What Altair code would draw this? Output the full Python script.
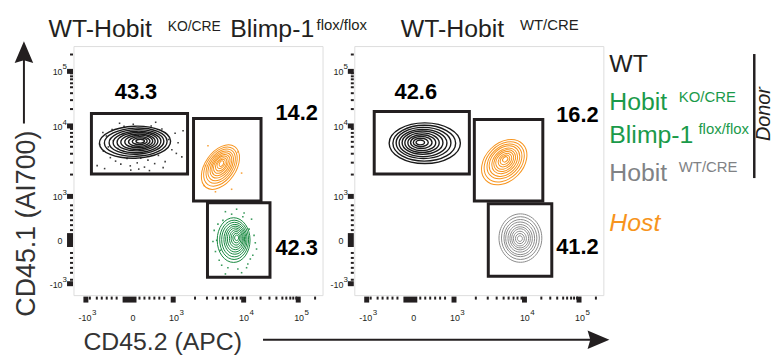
import altair as alt
import pandas as pd

FONT = "Liberation Sans, Arial, Helvetica, sans-serif"
INK = "#231f20"
AX_INK = "#333333"
GREEN = "#1a9a4a"
GREEN_C = "#17883f"
ORANGE = "#f7941d"
GRAY = "#8a8a8a"
GRAY_T = "#808285"

# ---------------- axis ticks (display units = % of logicle-scaled axis) -------------
MAJOR = [4.8, 22.5, 40.0, 68.1, 90.2]
TICK_BASE = ["-10", "0", "10", "10", "10"]
TICK_SUP = ["3", "", "3", "4", "5"]
MINOR = [6.4, 9.2, 11.2, 13.1, 15.1, 17.1, 26.3, 28.3, 30.3, 32.3, 34.3, 36.3,
         48.5, 53.4, 56.9, 59.6, 61.9, 63.7, 65.4, 66.8,
         74.8, 78.6, 81.4, 83.5, 85.3, 86.8, 88.1, 89.2, 96.8]
ZERO = 22.5

# ---------------- panel 1 : WT-Hobit KO/CRE Blimp-1 flox/flox ----------------------
P1_GATE_X1 = [7.2, 48.2, 53.8]
P1_GATE_X2 = [45.8, 75.3, 78.9]
P1_GATE_Y1 = [48.6, 37.8, 7.2]
P1_GATE_Y2 = [72.9, 70.9, 37.1]
P1_PCT = ["43.3", "14.2", "42.3"]
P1_PCT_X = [25.1, 89.6, 89.6]
P1_PCT_Y = [81.7, 73.3, 18.7]

# contour levels (centre x, centre y, half-width) per population
P1_WT_CX = [24.7, 25.0, 25.3, 25.5, 25.7, 25.9, 26.2, 26.4, 26.6, 26.8]
P1_WT_CY = [61.4, 61.4, 61.5, 61.5, 61.6, 61.6, 61.7, 61.7, 61.8, 61.8]
P1_WT_RX = [14.3, 12.6, 11.0, 9.6, 8.2, 6.9, 5.6, 4.3, 3.0, 1.7]

P1_HOST_CX = [59.0, 59.0, 59.1, 59.1, 59.2, 59.2, 59.2, 59.3, 59.3, 59.4]
P1_HOST_CY = [51.4, 51.6, 51.8, 51.9, 52.1, 52.2, 52.4, 52.5, 52.7, 52.8]
P1_HOST_RX = [10.0, 8.8, 7.7, 6.7, 5.7, 4.8, 3.9, 3.0, 2.1, 1.2]

P1_KO_CX = [64.3, 64.5, 64.6, 64.8, 64.9, 65.0, 65.2, 65.3, 65.4, 65.5]
P1_KO_CY = [22.1, 22.2, 22.3, 22.4, 22.5, 22.6, 22.7, 22.8, 22.9, 23.0]
P1_KO_RX = [6.6, 5.8, 5.1, 4.4, 3.8, 3.2, 2.6, 2.0, 1.4, 0.8]

# sparse events outside the outer contours
P1_WT_DOT_X = [10.5, 12.0, 13.2, 14.8, 15.5, 16.9, 17.8, 19.0, 20.3, 21.5, 22.8, 24.0,
               25.6, 27.0, 28.5, 29.9, 31.2, 32.6, 34.1, 35.5, 36.8, 38.2, 39.5, 40.8,
               42.0, 11.8, 18.5, 26.2, 33.0, 41.3,
               9.5, 12.5, 14.0, 16.0, 20.0, 23.0, 30.5, 36.0, 43.5, 44.0]
P1_WT_DOT_Y = [60.5, 57.8, 63.9, 55.2, 66.5, 53.8, 58.9, 52.6, 67.8, 54.9, 51.9, 68.6,
               53.1, 55.0, 51.4, 54.2, 67.9, 52.8, 56.1, 66.7, 53.6, 62.5, 58.4, 65.0,
               61.2, 65.3, 69.0, 50.6, 69.4, 56.9,
               52.0, 50.8, 59.5, 62.0, 64.8, 50.2, 50.0, 51.2, 55.5, 66.0]
P1_HOST_DOT_X = [52.5, 66.0, 54.0, 63.5, 57.0, 67.5, 53.0]
P1_HOST_DOT_Y = [44.0, 57.5, 60.0, 42.5, 41.5, 49.0, 52.0]
P1_KO_DOT_X = [58.5, 71.5, 60.0, 70.0, 57.5, 73.0, 62.0, 68.5, 59.0, 72.0, 66.0, 61.0,
               56.5, 57.0, 58.0, 59.5, 61.0, 63.5, 65.5, 67.5, 69.5, 70.5, 71.0, 72.5,
               56.0, 73.5, 68.0]
P1_KO_DOT_Y = [14.0, 30.5, 30.0, 12.5, 22.0, 21.0, 11.0, 33.0, 18.0, 16.0, 10.5, 33.5,
               26.0, 17.5, 28.5, 12.0, 8.5, 32.5, 34.5, 9.0, 11.0, 26.5, 14.5, 24.0,
               21.5, 18.5, 31.5]

# ---------------- panel 2 : WT-Hobit WT/CRE ---------------------------------------
P2_GATE_X1 = [8.0, 48.2, 53.8]
P2_GATE_X2 = [46.2, 75.7, 79.3]
P2_GATE_Y1 = [48.6, 37.8, 7.6]
P2_GATE_Y2 = [73.7, 70.5, 36.7]
P2_PCT = ["42.6", "16.2", "41.2"]
P2_PCT_X = [24.7, 89.6, 89.6]
P2_PCT_Y = [81.7, 72.5, 19.1]

P2_WT_CX = [28.3, 28.1, 27.8, 27.6, 27.4, 27.2, 27.1, 26.9, 26.7, 26.5]
P2_WT_CY = [61.0, 61.0, 61.1, 61.1, 61.2, 61.2, 61.2, 61.3, 61.3, 61.3]
P2_WT_RX = [14.3, 12.6, 11.0, 9.6, 8.2, 6.9, 5.6, 4.3, 3.0, 1.7]

P2_HOST_CX = [60.2, 60.2, 60.3, 60.3, 60.4, 60.4, 60.4, 60.5, 60.5, 60.6]
P2_HOST_CY = [53.4, 53.5, 53.7, 53.8, 53.9, 54.0, 54.1, 54.2, 54.3, 54.5]
P2_HOST_RX = [10.4, 9.2, 8.0, 7.0, 5.9, 5.0, 4.1, 3.1, 2.2, 1.2]

P2_CTRL_CX = [66.7, 66.7, 66.7, 66.6, 66.6, 66.6, 66.6, 66.5, 66.5, 66.5]
P2_CTRL_CY = [22.9, 22.9, 22.9, 22.8, 22.8, 22.8, 22.8, 22.7, 22.7, 22.7]
P2_CTRL_RX = [8.6, 7.6, 6.6, 5.8, 4.9, 4.1, 3.4, 2.6, 1.8, 1.0]

# ---------------- scales / axes ---------------------------------------------------
W = H = 251
PXU = W / 100.0
XS = alt.Scale(domain=[0, 100], nice=False, zero=False)
YS = alt.Scale(domain=[0, 100], nice=False, zero=False)
SS = alt.Scale(type="linear", domain=[0, 100], range=[0, 4 * PXU * PXU * 100], zero=True)

ALL_TICKS = sorted(MAJOR + MINOR)
IS_MAJOR = " || ".join(f"datum.value == {v}" for v in MAJOR)
TICK_SIZE = {"condition": {"test": IS_MAJOR, "value": 6}, "value": 3}
TICK_WIDTH = {"condition": [{"test": f"datum.value == {ZERO}", "value": 14},
                            {"test": IS_MAJOR, "value": 5}], "value": 2}


def make_axis(orient):
    return alt.Axis(values=ALL_TICKS, labels=False, domain=False, grid=False, title=None,
                    orient=orient, tickColor=INK, tickSize=TICK_SIZE, tickWidth=TICK_WIDTH,
                    offset=1)


XAX = make_axis("bottom")
YAX = make_axis("left")


def X(f):
    return alt.X(f, type="quantitative", scale=XS, axis=XAX)


def Y(f):
    return alt.Y(f, type="quantitative", scale=YS, axis=YAX)


def ellipse_path(k):
    return f"M -1 0 A 1 {k} 0 1 1 1 0 A 1 {k} 0 1 1 -1 0 Z"


def contour(cx, cy, rx, k, angle, color, sw):
    df = pd.DataFrame({"cx": cx, "cy": cy, "rx": rx})
    return alt.Chart(df).transform_calculate(s="datum.rx * datum.rx").mark_point(
        shape=ellipse_path(k), filled=False, color=color, strokeWidth=sw, opacity=1,
        angle=angle, clip=False
    ).encode(x=X("cx"), y=Y("cy"), size=alt.Size("s:Q", scale=SS, legend=None))


def dots(xv, yv, color):
    df = pd.DataFrame({"x": xv, "y": yv})
    return alt.Chart(df).mark_square(size=2.5, color=color, opacity=0.85).encode(
        x=X("x"), y=Y("y"))


def txt(t, x, y, size, color=INK, **kw):
    df = pd.DataFrame({"x": [x], "y": [y], "t": [t]})
    props = dict(align="left", baseline="alphabetic", font=FONT, fontSize=size,
                 color=color, clip=False)
    props.update(kw)
    return alt.Chart(df).mark_text(**props).encode(x=X("x"), y=Y("y"), text="t:N")


def rule(x1, x2, y1, y2, color=INK, sw=2):
    df = pd.DataFrame({"x": [x1], "x2": [x2], "y": [y1], "y2": [y2]})
    return alt.Chart(df).mark_rule(color=color, strokeWidth=sw, clip=False).encode(
        x=X("x"), x2="x2", y=Y("y"), y2="y2")


ARROW = "M -1 -0.85 L 1 0 L -1 0.85 L -0.75 0 Z"


def head(x, y, angle):
    df = pd.DataFrame({"x": [x], "y": [y]})
    return alt.Chart(df).mark_point(shape=ARROW, filled=True, color=INK, opacity=1,
                                    size=484, angle=angle, strokeWidth=0, clip=False).encode(
        x=X("x"), y=Y("y"))


def tick_labels():
    df = pd.DataFrame({"v": MAJOR, "base": TICK_BASE, "sup": TICK_SUP})
    common = dict(font=FONT, color=INK, baseline="alphabetic", clip=False)
    xb = alt.Chart(df).mark_text(align="right", dx=6, fontSize=9, **common).encode(
        x=X("v"), y=alt.value(H + 26), text="base:N")
    xs = alt.Chart(df).mark_text(align="left", dx=6.5, fontSize=8, **common).encode(
        x=X("v"), y=alt.value(H + 20), text="sup:N")
    yb = alt.Chart(df).mark_text(align="right", dy=5, fontSize=9, **common).encode(
        y=Y("v"), x=alt.value(-11), text="base:N")
    ys = alt.Chart(df).mark_text(align="left", dy=-1, fontSize=8, **common).encode(
        y=Y("v"), x=alt.value(-11), text="sup:N")
    return [xb, xs, yb, ys]


def gates(x1, x2, y1, y2, pct, px, py):
    g = pd.DataFrame({"x": x1, "x2": x2, "y": y1, "y2": y2})
    p = pd.DataFrame({"x": px, "y": py, "t": pct})
    gl = alt.Chart(g).mark_rect(filled=False, color=INK, strokeWidth=3).encode(
        x=X("x"), x2="x2", y=Y("y"), y2="y2")
    pl = alt.Chart(p).mark_text(font=FONT, fontSize=22, fontWeight="bold", color="#000000",
                                align="center", baseline="middle", clip=False).encode(
        x=X("x"), y=Y("y"), text="t:N")
    return [gl, pl]


# ---------------- panel 1 ----------------
p1_layers = gates(P1_GATE_X1, P1_GATE_X2, P1_GATE_Y1, P1_GATE_Y2, P1_PCT, P1_PCT_X, P1_PCT_Y)
p1_layers += [
    dots(P1_WT_DOT_X, P1_WT_DOT_Y, "#1a1a1a"),
    dots(P1_HOST_DOT_X, P1_HOST_DOT_Y, ORANGE),
    dots(P1_KO_DOT_X, P1_KO_DOT_Y, GREEN_C),
    contour(P1_WT_CX, P1_WT_CY, P1_WT_RX, 0.45, 358, "#1a1a1a", 1.4),
    contour(P1_HOST_CX, P1_HOST_CY, P1_HOST_RX, 0.62, 305, ORANGE, 1.0),
    contour(P1_KO_CX, P1_KO_CY, P1_KO_RX, 1.36, 0, GREEN_C, 1.0),
]
p1_layers += tick_labels()
p1_layers += [
    txt("WT-Hobit", -10.0, 103.6, 25, INK),
    txt("KO/CRE", 37.8, 106.0, 14, INK),
    txt("Blimp-1", 62.9, 103.6, 25, INK),
    txt("flox/flox", 97.6, 106.4, 15, INK),
    txt("CD45.2 (APC)", 4.0, -21.9, 25, AX_INK),
    txt("CD45.1 (AI700)", -15.5, 28.7, 27, AX_INK, angle=270, align="center"),
    rule(76.1, 210.4, -17.9, -17.9),
    head(210.8, -17.9, 0),
    rule(-19.9, -19.9, 68.9, 95.6),
    head(-19.9, 97.6, 270),
]
p1 = alt.layer(*p1_layers).properties(width=W, height=H)

# ---------------- panel 2 ----------------
p2_layers = gates(P2_GATE_X1, P2_GATE_X2, P2_GATE_Y1, P2_GATE_Y2, P2_PCT, P2_PCT_X, P2_PCT_Y)
p2_layers += [
    contour(P2_WT_CX, P2_WT_CY, P2_WT_RX, 0.57, 0, "#1a1a1a", 1.4),
    contour(P2_HOST_CX, P2_HOST_CY, P2_HOST_RX, 0.73, 315, ORANGE, 1.0),
    contour(P2_CTRL_CX, P2_CTRL_CY, P2_CTRL_RX, 1.13, 0, GRAY, 1.0),
]
p2_layers += tick_labels()
p2_layers += [
    txt("WT-Hobit", 18.7, 103.6, 25, INK),
    txt("WT/CRE", 66.5, 106.4, 15, INK),
    # legend
    txt("WT", 102.4, 89.6, 25, INK),
    txt("Hobit", 102.4, 74.5, 25, GREEN),
    txt("KO/CRE", 130.3, 77.7, 15, GREEN),
    txt("Blimp-1", 102.4, 61.0, 25, GREEN),
    txt("flox/flox", 138.2, 64.5, 15, GREEN),
    txt("Hobit", 102.4, 45.8, 25, GRAY_T),
    txt("WT/CRE", 130.3, 49.4, 15, GRAY_T),
    txt("Host", 102.4, 25.9, 25, ORANGE, fontStyle="italic"),
    rule(160.6, 160.6, 47.0, 96.8, INK, 2.5),
    txt("Donor", 166.9, 72.7, 20, INK, angle=270, align="center", fontStyle="italic"),
]
p2 = alt.layer(*p2_layers).properties(width=W, height=H)

chart = alt.hconcat(p1, p2, spacing=32, bounds="flush").properties(
    padding={"left": 4, "top": 7, "right": 0, "bottom": 0}
).configure_view(stroke=INK, strokeWidth=1.3).configure(font=FONT)

chart.save("out.html", embed_options={"renderer": "svg", "actions": False})
